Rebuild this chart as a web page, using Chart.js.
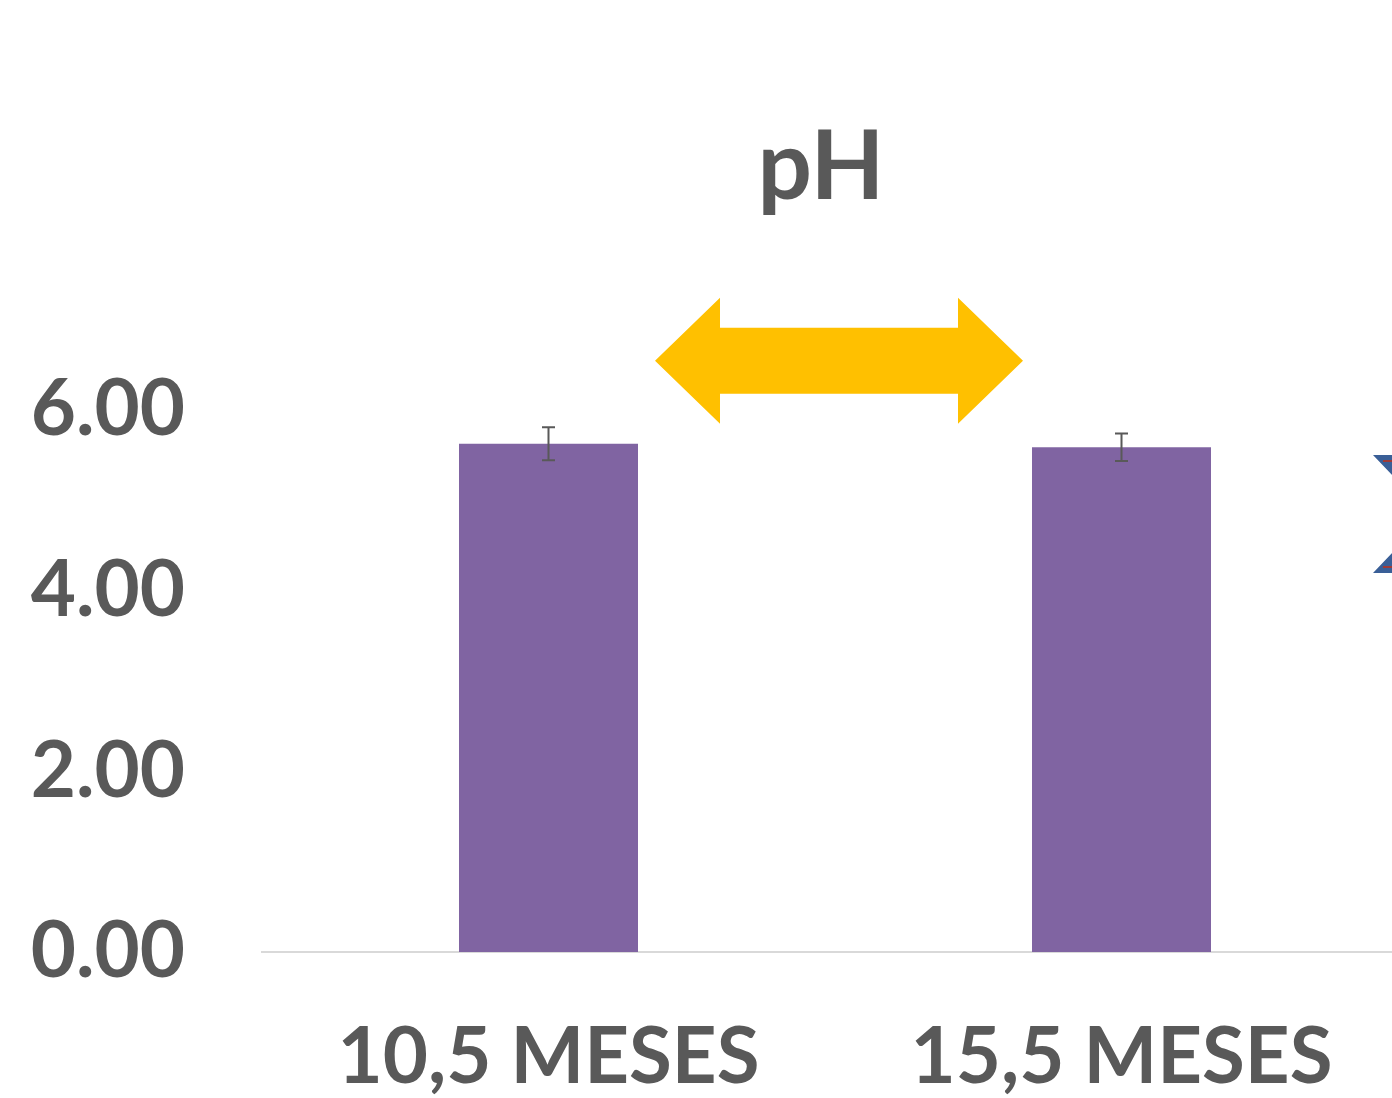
<!DOCTYPE html>
<html>
<head>
<meta charset="utf-8">
<script src="https://cdn.jsdelivr.net/npm/chart.js@4.4.1/dist/chart.umd.min.js"></script>
<style>
  html, body { margin: 0; padding: 0; background: #fff; overflow: hidden; }
  #wrap { width: 1420px; height: 1098px; position: relative; }
</style>
</head>
<body>
<div id="wrap"><canvas id="phChart"></canvas></div>
<script>
const categories = ['10,5 MESES', '15,5 MESES'];
const phValues = [5.63, 5.59];
const phErrors = [0.183, 0.153];
const yTicks = [0, 2, 4, 6];
const chartTitle = 'pH';

const GREY = '#595959';
const FONT = 'Lato, "Open Sans", sans-serif';

// error bars on top of the bars
const errorBars = {
    id: 'errorBars',
    afterDatasetsDraw(chart) {
        const { ctx, scales: { y } } = chart;
        const meta = chart.getDatasetMeta(0);
        ctx.save();
        ctx.strokeStyle = GREY;
        ctx.lineWidth = 2;
        meta.data.forEach((bar, i) => {
            const v = phValues[i], e = phErrors[i];
            const top = y.getPixelForValue(v + e);
            const bot = y.getPixelForValue(v - e);
            ctx.beginPath();
            ctx.moveTo(bar.x, top); ctx.lineTo(bar.x, bot);
            ctx.moveTo(bar.x - 6.5, top); ctx.lineTo(bar.x + 6.5, top);
            ctx.moveTo(bar.x - 6.5, bot); ctx.lineTo(bar.x + 6.5, bot);
            ctx.stroke();
        });
        ctx.restore();
    }
};

// title, yellow double arrow between the bars, cut-off shape on the right
const decorations = {
    id: 'decorations',
    afterDraw(chart) {
        const { ctx, scales: { x, y } } = chart;
        ctx.save();
        ctx.fillStyle = GREY;
        ctx.font = `bold 96px ${FONT}`;
        ctx.textAlign = 'center';
        ctx.textBaseline = 'alphabetic';
        ctx.fillText(chartTitle, 821, 199);

        const cx = (x.getPixelForValue(0) + x.getPixelForValue(1)) / 2 + 4;
        const cy = y.getPixelForValue(6.55);
        const half = 184, head = 65, hh = 63, sh = 33;
        ctx.fillStyle = '#FFC000';
        ctx.beginPath();
        ctx.moveTo(cx - half, cy);
        ctx.lineTo(cx - half + head, cy - hh);
        ctx.lineTo(cx - half + head, cy - sh);
        ctx.lineTo(cx + half - head, cy - sh);
        ctx.lineTo(cx + half - head, cy - hh);
        ctx.lineTo(cx + half, cy);
        ctx.lineTo(cx + half - head, cy + hh);
        ctx.lineTo(cx + half - head, cy + sh);
        ctx.lineTo(cx - half + head, cy + sh);
        ctx.lineTo(cx - half + head, cy + hh);
        ctx.closePath();
        ctx.fill();

        const rx = 1373;
        ctx.fillStyle = '#3A5F97';
        ctx.beginPath();
        ctx.moveTo(rx, 455); ctx.lineTo(rx + 40, 455); ctx.lineTo(rx + 40, 497); ctx.closePath();
        ctx.moveTo(rx, 573); ctx.lineTo(rx + 40, 573); ctx.lineTo(rx + 40, 531); ctx.closePath();
        ctx.fill();
        ctx.strokeStyle = '#A03A36';
        ctx.lineWidth = 2;
        ctx.beginPath();
        ctx.moveTo(rx + 10, 461); ctx.lineTo(rx + 30, 461);
        ctx.moveTo(rx + 10, 567); ctx.lineTo(rx + 30, 567);
        ctx.stroke();
        ctx.restore();
    }
};

new Chart(document.getElementById('phChart'), {
    type: 'bar',
    data: {
        labels: categories,
        datasets: [{
            data: phValues,
            backgroundColor: '#8064A2',
            barPercentage: 0.3124,
            categoryPercentage: 1,
        }],
    },
    options: {
        responsive: true,
        maintainAspectRatio: false,
        animation: false,
        layout: { padding: { top: 320, right: 12, left: 0, bottom: 0 } },
        plugins: { legend: { display: false }, title: { display: false }, tooltip: { enabled: false } },
        scales: {
            x: {
                grid: { display: false, drawTicks: false, tickLength: 0 },
                border: { display: true, color: '#d9d9d9', width: 2 },
                ticks: { color: GREY, font: { family: FONT, size: 78, weight: 'bold', lineHeight: 1 }, padding: 67, maxRotation: 0 },
                afterFit(scale) { scale.height = 146; },
            },
            y: {
                min: 0,
                max: 7,
                grid: { display: false, drawTicks: false, tickLength: 0 },
                border: { display: false },
                afterBuildTicks(scale) { scale.ticks = yTicks.map((v) => ({ value: v })); },
                ticks: {
                    color: GREY,
                    font: { family: FONT, size: 78, weight: 'bold' },
                    padding: 77,
                    callback: (v) => Number(v).toFixed(2),
                },
                afterFit(scale) { scale.width = 262; },
            },
        },
    },
    plugins: [errorBars, decorations],
});
</script>
</body>
</html>
